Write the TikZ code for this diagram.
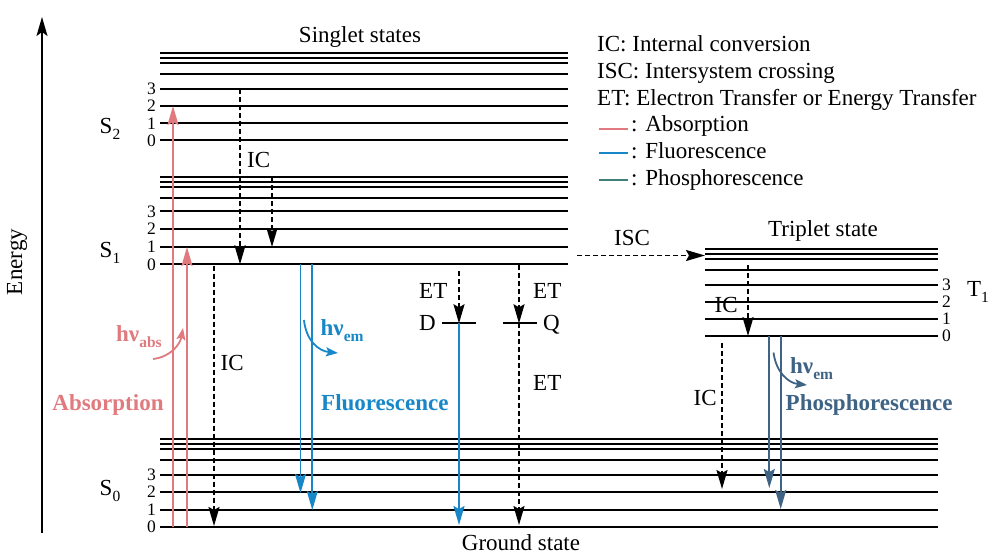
\documentclass[tikz,border=0pt]{standalone}
\usepackage{fontspec}
\setmainfont{Liberation Serif}
\usetikzlibrary{arrows.meta}
\definecolor{abscol}{HTML}{E07A7F}
\definecolor{flucol}{HTML}{1787C8}
\definecolor{phocol}{HTML}{3F6385}
\definecolor{legpho}{HTML}{3F807A}
\newcommand\sbs[1]{\raisebox{-0.28em}{\fontsize{15.5}{16}\selectfont #1}}
\begin{document}
\begin{tikzpicture}[x=1pt,y=-1pt,
  lvl/.style={line width=1.8pt},
  lab/.style={font=\fontsize{23}{26}\selectfont, inner sep=0pt},
  blab/.style={font=\fontsize{23}{26}\selectfont\bfseries, inner sep=0pt},
  num/.style={font=\fontsize{17.5}{18}\selectfont, inner sep=0pt},
  tipbig/.style={-{Stealth[length=19pt,width=11pt,inset=3pt]}},
  tipsmall/.style={-{Stealth[length=12pt,width=9pt,inset=2.5pt]}},
  dasharrow/.style={line width=1.9pt, dash pattern=on 5pt off 3pt, tipbig},
  absarrow/.style={line width=1.8pt, abscol, tipbig},
  fluarrow/.style={line width=1.8pt, flucol, tipbig},
  phoarrow/.style={line width=1.8pt, phocol, tipbig},
  curvearrow/.style={line width=1.8pt, tipsmall}
]
\useasboundingbox (0,0) rectangle (989,554);

% Energy axis
\coordinate (ebot) at (42,533);
\coordinate (etop) at (42,17);
\draw[line width=1.6pt, -{Stealth[length=19pt,width=11pt,inset=4pt]}] (ebot) -- (etop);
\node[lab, rotate=90] (energy) at (17,262) {Energy};

% Singlet S2
\foreach \y in {52.7,58.3,63.3,74,89,106,123.3,140.3} \draw[lvl] (160,\y) -- (568,\y);
% Singlet S1
\foreach \y in {176.7,182.3,187.3,198,211.3,229,247,264.3} \draw[lvl] (160,\y) -- (568,\y);
% Ground S0
\foreach \y in {439,444.3,449.3,460,475,491.7,509.7,527} \draw[lvl] (160,\y) -- (938,\y);
% Triplet T1
\foreach \y in {249,254.3,259.3,270,285,301.7,319,336} \draw[lvl] (705,\y) -- (938,\y);

% level numbers
\foreach \y/\n [count=\i] in {89/3,106/2,123.3/1,140.3/0,211.3/3,229/2,247/1,264.3/0,475/3,491.7/2,509.7/1,527/0}
  \node[num,anchor=east] (n\i) at (156,\y) {\n};
\foreach \y/\n [count=\i] in {285/3,301.7/2,319/1,336/0}
  \node[num,anchor=west] (tn\i) at (942,\y) {\n};

% state labels
\node[lab] (S2) at (110,129) {S\sbs{2}};
\node[lab] (S1) at (110,253) {S\sbs{1}};
\node[lab] (S0) at (110,491) {S\sbs{0}};
\node[lab] (T1) at (978,292) {T\sbs{1}};
\node[lab, anchor=base] (singlet) at (360,42.7) {Singlet states};
\node[lab, anchor=base] (triplet) at (823,236.7) {Triplet state};
\node[lab, anchor=base] (ground) at (521,550) {Ground state};

% legend
\node[lab, anchor=base west] (leg1) at (597,51.7) {IC: Internal conversion};
\node[lab, anchor=base west] (leg2) at (597,78.3) {ISC: Intersystem crossing};
\node[lab, anchor=base west] (leg3) at (597,105) {ET: Electron Transfer or Energy Transfer};
\coordinate (la1) at (599,129); \coordinate (la2) at (628,129);
\coordinate (lf1) at (599,153.3); \coordinate (lf2) at (628,153.3);
\coordinate (lp1) at (599,180); \coordinate (lp2) at (628,180);
\draw[abscol, line width=1.8pt] (la1) -- (la2);
\draw[flucol, line width=1.8pt] (lf1) -- (lf2);
\draw[legpho, line width=1.8pt] (lp1) -- (lp2);
\node[lab, anchor=base west] (leg4) at (631,131.7) {: Absorption};
\node[lab, anchor=base west] (leg5) at (631,158.3) {: Fluorescence};
\node[lab, anchor=base west] (leg6) at (631,185.7) {: Phosphorescence};

% absorption
\coordinate (a1s) at (173,527); \coordinate (a1e) at (173,106);
\coordinate (a2s) at (187,527); \coordinate (a2e) at (187,247);
\draw[absarrow] (a1s) -- (a1e);
\draw[absarrow] (a2s) -- (a2e);
\node[blab, anchor=base west, text=abscol] (hvabs) at (116,341.5) {hν\sbs{abs}};
\coordinate (ca1) at (153,359); \coordinate (ca2) at (183,328);
\draw[curvearrow, abscol] (ca1) .. controls (170,357) and (180,345) .. (ca2);
\node[blab, anchor=base, text=abscol] (abslab) at (108,410) {Absorption};

% internal conversions (singlet)
\coordinate (ic1s) at (240,89); \coordinate (ic1e) at (240,264.3);
\draw[dasharrow] (ic1s) -- (ic1e);
\node[lab, anchor=base west] (ic1) at (247,167) {IC};
\coordinate (ic2s) at (272,177); \coordinate (ic2e) at (272,247);
\draw[dasharrow] (ic2s) -- (ic2e);
\coordinate (ic3s) at (214,266); \coordinate (ic3e) at (214,526);
\draw[dasharrow] (ic3s) -- (ic3e);
\node[lab, anchor=base west] (ic3) at (220.5,370) {IC};

% fluorescence
\coordinate (f1s) at (300.5,264.3); \coordinate (f1e) at (300.5,493);
\coordinate (f2s) at (312.3,264.3); \coordinate (f2e) at (312.3,510);
\draw[fluarrow] (f1s) -- (f1e);
\draw[fluarrow] (f2s) -- (f2e);
\coordinate (cf1) at (304,320); \coordinate (cf2) at (338,353);
\draw[curvearrow, flucol] (cf1) .. controls (306,340) and (318,351) .. (cf2);
\node[blab, anchor=base west, text=flucol] (hvem1) at (320.5,335) {hν\sbs{em}};
\node[blab, anchor=base west, text=flucol] (flulab) at (321,410) {Fluorescence};

% electron/energy transfer
\coordinate (Dl) at (442,323.3); \coordinate (Dr) at (476,323.3);
\coordinate (Ql) at (503,323.3); \coordinate (Qr) at (537,323.3);
\draw[lvl] (Dl) -- (Dr);
\draw[lvl] (Ql) -- (Qr);
\node[lab, anchor=base west] (D) at (419,330) {D};
\node[lab, anchor=base west] (Q) at (543,330) {Q};
\coordinate (et1s) at (459,271); \coordinate (et1e) at (459,323.3);
\draw[dasharrow] (et1s) -- (et1e);
\node[lab, anchor=base west] (et1) at (419,298) {ET};
\coordinate (et2s) at (519,265); \coordinate (et2e) at (519,323.3);
\draw[dasharrow] (et2s) -- (et2e);
\node[lab, anchor=base west] (et2) at (533,298) {ET};
\coordinate (et3e) at (519,525);
\draw[dasharrow] (et2e) -- (et3e);
\node[lab, anchor=base west] (et3) at (533,390) {ET};
\coordinate (dge) at (459,525);
\draw[fluarrow] (et1e) -- (dge);

% ISC
\coordinate (isc1) at (577,255.5); \coordinate (isc2) at (705,255.5);
\draw[dasharrow] (isc1) -- (isc2);
\node[lab, anchor=base] (isc) at (632,245) {ISC};

% triplet IC
\coordinate (tic1s) at (748,265); \coordinate (tic1e) at (748,336);
\draw[dasharrow] (tic1s) -- (tic1e);
\node[lab, anchor=base west] (tic1) at (714.5,312) {IC};
\coordinate (tic2s) at (722,343); \coordinate (tic2e) at (722,489);
\draw[dasharrow] (tic2s) -- (tic2e);
\node[lab, anchor=base west] (tic2) at (693.5,405) {IC};

% phosphorescence
\coordinate (p1s) at (769.3,336); \coordinate (p1e) at (769.3,488);
\coordinate (p2s) at (780.7,336); \coordinate (p2e) at (780.7,509);
\draw[phoarrow] (p1s) -- (p1e);
\draw[phoarrow] (p2s) -- (p2e);
\coordinate (cp1) at (773.5,352.5); \coordinate (cp2) at (807,385);
\draw[curvearrow, phocol] (cp1) .. controls (776,372) and (788,383) .. (cp2);
\node[blab, anchor=base west, text=phocol] (hvem2) at (790,373) {hν\sbs{em}};
\node[blab, anchor=base west, text=phocol] (pholab) at (785.5,410) {Phosphorescence};
\end{tikzpicture}
\end{document}
